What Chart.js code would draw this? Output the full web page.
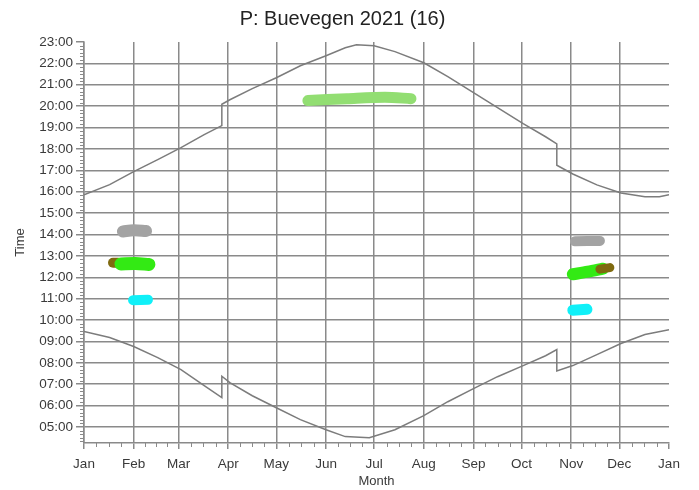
<!DOCTYPE html>
<html>
<head>
<meta charset="utf-8">
<script src="https://cdn.jsdelivr.net/npm/chart.js@4.4.1/dist/chart.umd.min.js"></script>
<style>
  html, body { margin: 0; padding: 0; background: #ffffff; }
  #wrap { width: 699px; height: 490px; }
</style>
</head>
<body>
<div id="wrap"><canvas id="c" width="699" height="490"></canvas></div>
<script>
// ---- data (day of year, time in hours) ----
const monthLabels = ['Jan','Feb','Mar','Apr','May','Jun','Jul','Aug','Sep','Oct','Nov','Dec','Jan'];
const monthStartDays = [0,31,59,90,120,151,181,212,243,273,304,334,365];
const hourTicks = [5,6,7,8,9,10,11,12,13,14,15,16,17,18,19,20,21,22,23];

const sunsetDays  = [0,16,31,46,60.5,75,86,86,91,105,120,135,151,163,170,181,194,212,227,243,258,274,288,295,295,305,320,335,350,359,365];
const sunsetTimes = [15.86,16.33,16.94,17.50,18.06,18.67,19.09,20.09,20.30,20.82,21.33,21.89,22.36,22.73,22.87,22.82,22.55,22.03,21.38,20.63,19.93,19.18,18.57,18.24,17.24,16.83,16.32,15.94,15.76,15.76,15.86];

const sunriseDays  = [0,16,31,46,60.5,75,86,86,91,105,120,135,151,163,178,194,212,227,243,258,274,288,295,295,305,320,335,350,365];
const sunriseTimes = [9.46,9.18,8.76,8.24,7.68,6.93,6.37,7.37,7.07,6.46,5.90,5.34,4.87,4.55,4.50,4.87,5.53,6.18,6.79,7.35,7.87,8.33,8.62,7.62,7.87,8.38,8.90,9.32,9.55];

// flicker periods (day, time)
const grayFebDays = [24.3, 31, 38.7],     grayFebTimes = [14.14, 14.2, 14.16];
const brownJanDays = [18.1, 21.2],        brownJanTimes = [12.68, 12.68];
const greenFebDays = [23.1, 32, 40.5],    greenFebTimes = [12.62, 12.64, 12.6];
const cyanFebDays = [30.6, 39.9],         cyanFebTimes = [10.93, 10.95];
const grayNovDays = [306.3, 321.9],       grayNovTimes = [13.68, 13.70];
const greenNovDays = [305, 314.4, 323.8], greenNovTimes = [12.14, 12.26, 12.40];
const brownNovDays = [321.9, 328.1],      brownNovTimes = [12.38, 12.45];
const cyanNovDays = [305, 313.8],         cyanNovTimes = [10.46, 10.5];
const summerDays = [139.7, 164.1, 187.8, 204], summerTimes = [20.26, 20.35, 20.42, 20.35];

const toPts = (d, t) => d.map((v, i) => ({x: v, y: t[i]}));

const gridColor = '#8a8a8a';
const curveColor = '#7c7c7c';
const textColor = '#3a3a3a';
const FONT = "'Liberation Sans', Arial, sans-serif";

function blob(days, times, color, width) {
  return {
    data: toPts(days, times), showLine: true, pointRadius: 0,
    borderColor: color, backgroundColor: color, borderWidth: width,
    borderCapStyle: 'round', borderJoinStyle: 'round', tension: 0.3, fill: false
  };
}
function curve(days, times) {
  return {
    data: toPts(days, times), showLine: true, pointRadius: 0,
    borderColor: curveColor, borderWidth: 1.5, tension: 0, fill: false
  };
}

const minorTicks = {
  id: 'minorTicks',
  afterDraw(chart) {
    const {ctx, scales: {x, y}} = chart;
    ctx.save();
    ctx.strokeStyle = gridColor;
    ctx.lineWidth = 1;
    for (let i = 0; i < monthStartDays.length - 1; i++) {
      const a = monthStartDays[i], b = monthStartDays[i + 1];
      for (let k = 1; k < 4; k++) {
        const px = Math.round(x.getPixelForValue(a + (b - a) * k / 4)) + 0.5;
        ctx.beginPath(); ctx.moveTo(px, y.bottom); ctx.lineTo(px, y.bottom + 4); ctx.stroke();
      }
    }
    for (let m = Math.ceil(y.min * 6); m <= Math.floor(y.max * 6); m++) {
      if (m % 6 === 0) continue;
      const py = Math.round(y.getPixelForValue(m / 6)) + 0.5;
      ctx.beginPath(); ctx.moveTo(x.left - 4, py); ctx.lineTo(x.left, py); ctx.stroke();
    }
    ctx.restore();
  }
};

new Chart(document.getElementById('c'), {
  type: 'scatter',
  data: {
    datasets: [
      blob(brownNovDays, brownNovTimes, '#7f6a10', 9),
      blob(greenNovDays, greenNovTimes, '#33ea14', 12),
      blob(grayNovDays, grayNovTimes, '#a3a3a3', 10),
      blob(cyanNovDays, cyanNovTimes, '#10f0f8', 11),
      blob(greenFebDays, greenFebTimes, '#33ea14', 13),
      blob(brownJanDays, brownJanTimes, '#7f6a10', 10),
      blob(grayFebDays, grayFebTimes, '#a3a3a3', 12),
      blob(cyanFebDays, cyanFebTimes, '#10f0f8', 10),
      blob(summerDays, summerTimes, '#92de72', 11),
      curve(sunsetDays, sunsetTimes),
      curve(sunriseDays, sunriseTimes)
    ]
  },
  options: {
    responsive: false,
    animation: false,
    layout: { padding: { left: 0, right: 14, top: 0, bottom: 0 } },
    plugins: {
      legend: { display: false },
      tooltip: { enabled: false },
      title: {
        display: true,
        text: 'P: Buevegen 2021 (16)',
        color: '#222222',
        font: { family: FONT, size: 20, weight: 'normal', lineHeight: 1.15 },
        padding: { top: 8, bottom: 11 }
      }
    },
    scales: {
      x: {
        type: 'linear', min: 0, max: 365,
        afterBuildTicks: s => { s.ticks = monthStartDays.map(v => ({value: v})); },
        afterFit: s => { s.height = 47; },
        ticks: {
          autoSkip: false, maxRotation: 0, padding: 7, color: textColor,
          font: { family: FONT, size: 13.5 },
          callback: v => monthLabels[monthStartDays.indexOf(v)]
        },
        grid: {
          color: c => (c.tick && c.tick.value === 365) ? 'rgba(0,0,0,0)' : gridColor,
          tickColor: gridColor, tickLength: 6, lineWidth: 1.5
        },
        border: { display: true, color: gridColor, width: 1.5 },
        title: {
          display: true, text: 'Month', color: textColor,
          font: { family: FONT, size: 13 }, padding: { top: 0, bottom: 1 }
        }
      },
      y: {
        type: 'linear', min: 4.25, max: 23,
        afterBuildTicks: s => { s.ticks = hourTicks.map(v => ({value: v})); },
        afterFit: s => { s.width = 84; },
        ticks: {
          autoSkip: false, padding: 3, color: textColor,
          font: { family: FONT, size: 13.5 },
          callback: v => String(v).padStart(2, '0') + ':00'
        },
        grid: {
          color: c => (c.tick && c.tick.value === 23) ? 'rgba(0,0,0,0)' : gridColor,
          tickColor: gridColor, tickLength: 8, lineWidth: 1.5
        },
        border: { display: true, color: gridColor, width: 1.5 },
        title: {
          display: true, text: 'Time', color: textColor,
          font: { family: FONT, size: 13 }, padding: { top: 13, bottom: 0 }
        }
      },
      yPad: {
        type: 'linear', position: 'right', min: 4.25, max: 23,
        display: true,
        afterFit: s => { s.width = 16; },
        ticks: { display: false },
        grid: { display: false, drawOnChartArea: false, drawTicks: false },
        border: { display: false }
      }
    }
  },
  plugins: [minorTicks]
});
</script>
</body>
</html>
